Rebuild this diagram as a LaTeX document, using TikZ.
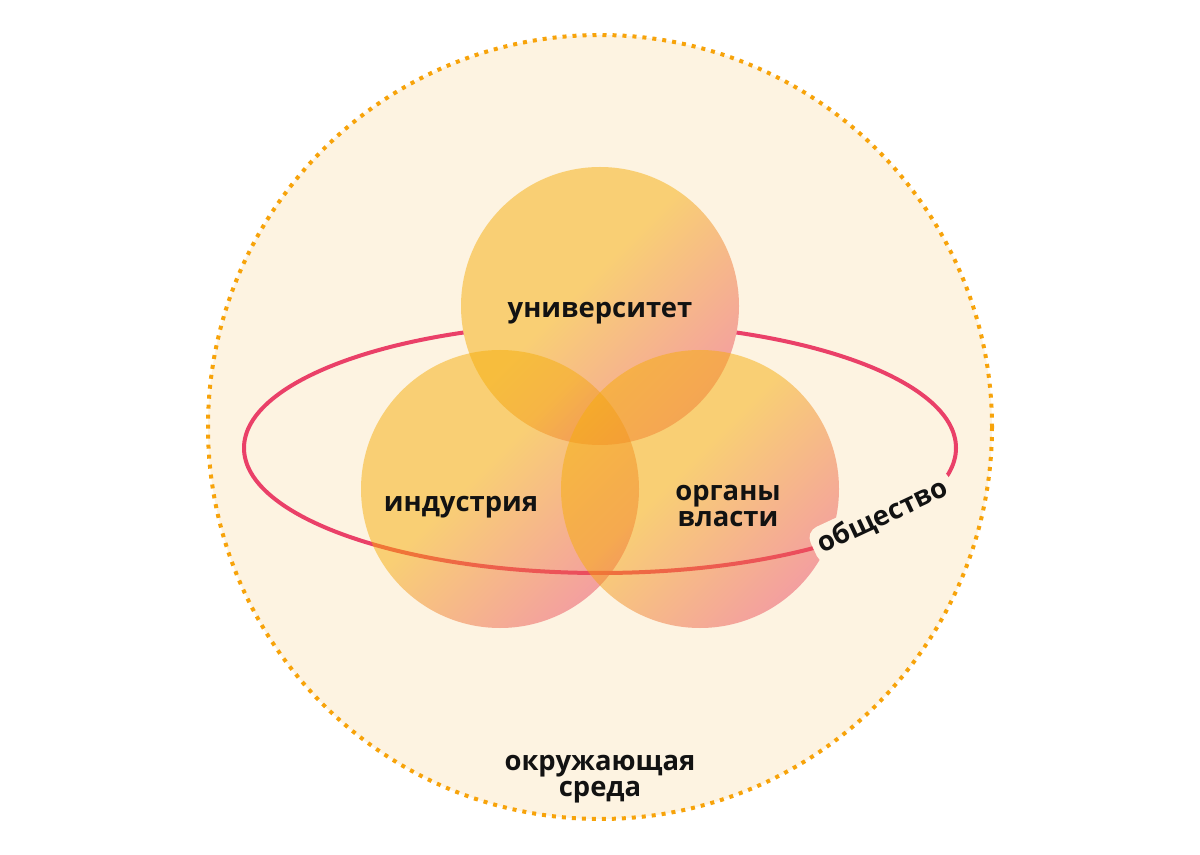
\documentclass[tikz,border=0pt]{standalone}
\usepackage{fontspec}
\setmainfont{Open Sans}
\definecolor{bgc}{HTML}{FDF3E1}
\definecolor{dotc}{HTML}{F7A30A}
\definecolor{ellc}{HTML}{EA4068}
\definecolor{yl}{HTML}{F6AD08}
\definecolor{pk}{HTML}{EB4D5F}
\pgfdeclareverticalshading{vgrad}{100bp}{color(0bp)=(pk); color(25bp)=(pk); color(55bp)=(yl); color(100bp)=(yl)}
\begin{document}
\begin{tikzpicture}[x=0.5pt,y=-0.5pt,
  lbl/.style={font=\fontsize{13.7}{13}\selectfont\bfseries, text=black!93, align=center, inner sep=0pt},
  venn/.style={shading=vgrad, shading angle=45, fill opacity=0.5}]
\useasboundingbox (0,0) rectangle (1200,855);
\fill[white] (0,0) rectangle (1200,855);
\coordinate (cE) at (600,427);
\coordinate (cU) at (600,306);
\coordinate (cI) at (500,489);
\coordinate (cO) at (700,489);
\coordinate (cS) at (600,448);
% environment
\draw[fill=bgc, draw=dotc, line width=2pt, dash pattern=on 2pt off 3pt] (cE) circle[radius=392];
% society ellipse
\draw[ellc, line width=2pt] (cS) ellipse[x radius=356, y radius=125];
\fill[bgc] (cU) circle[radius=139];
% three circles
\shade[venn] (cU) circle[radius=139];
\shade[venn] (cI) circle[radius=139];
\shade[venn] (cO) circle[radius=139];
% labels
\node[lbl, anchor=base] (uni) at (600,318) {университет};
\node[lbl, anchor=base] (ind) at (461,512) {индустрия};
\node[lbl] (org) at (728,506) {органы\\власти};
\node[lbl] (env) at (600,779) {окружающая\\среда};
\node[lbl, fill=bgc, rounded corners=6pt, inner sep=3pt, rotate=25] (soc) at (883,517) {общество};
\end{tikzpicture}
\end{document}
